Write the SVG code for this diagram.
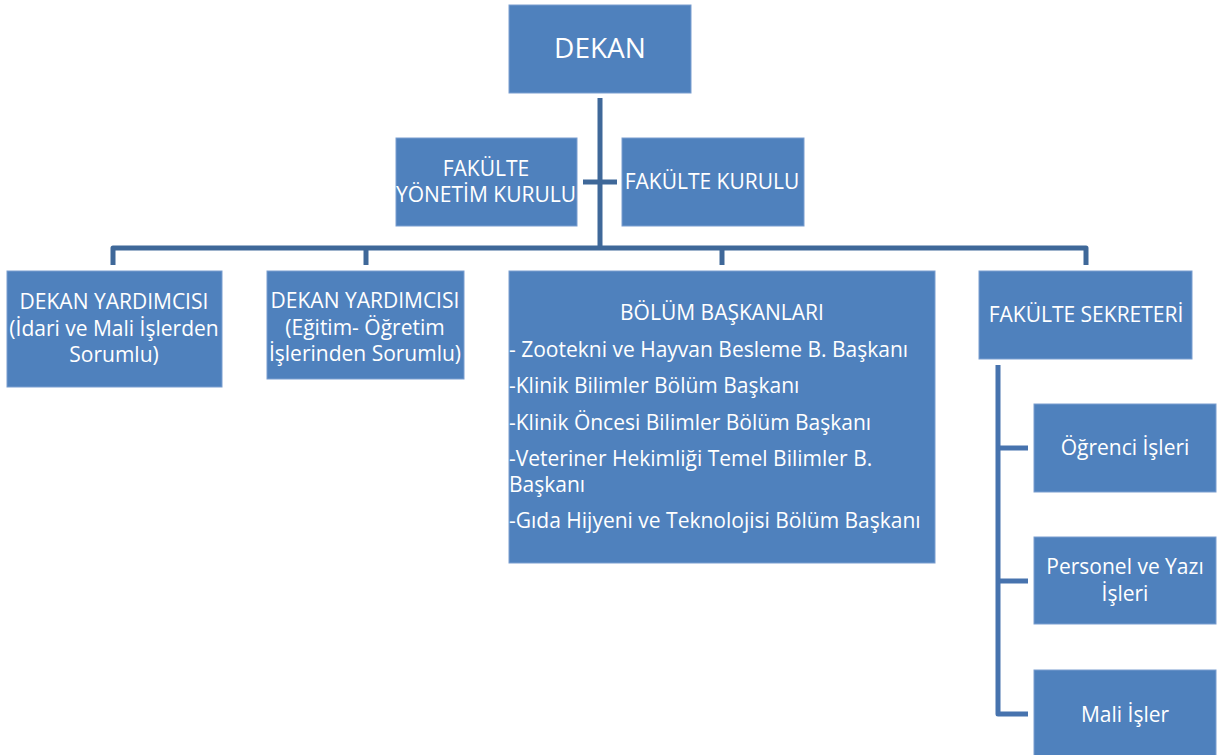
<svg xmlns="http://www.w3.org/2000/svg" width="1221" height="755" viewBox="0 0 1221 755">
<style>
.box{fill:#4F81BD;stroke:#7A9ED0;stroke-width:1}
.t{font-family:"Open Sans","Liberation Sans",sans-serif;font-size:21px;fill:#FFFFFF}
.c{text-anchor:middle}
.con{fill:none;stroke:#3F6899;stroke-width:5;stroke-linejoin:round}
.con2{fill:none;stroke:#4773AE;stroke-width:5;stroke-linejoin:round}
</style>
<rect width="1221" height="755" fill="#FFFFFF"/>
<g id="connectors">
<path class="con" d="M600 98 V248"/>
<path class="con" d="M583 182 H617"/>
<path class="con" d="M113 265 V248 H1086 V265"/>
<path class="con" d="M366 248 V265"/>
<path class="con" d="M722 248 V265"/>
<path class="con2" d="M998 365 V714 H1028"/>
<path class="con2" d="M998 448 H1028"/>
<path class="con2" d="M998 581 H1028"/>
</g>
<g id="dekan">
<rect class="box" x="509" y="5" width="182" height="88"/>
<text class="t c" x="600" y="58" style="font-size:28px">DEKAN</text>
</g>
<g id="fakulte-yonetim-kurulu">
<rect class="box" x="396" y="138" width="181" height="88"/>
<text class="t c" x="486" y="176">FAKÜLTE</text>
<text class="t c" x="486" y="202">YÖNETİM KURULU</text>
</g>
<g id="fakulte-kurulu">
<rect class="box" x="622" y="138" width="182" height="88"/>
<text class="t c" x="712" y="189">FAKÜLTE KURULU</text>
</g>
<g id="dekan-yardimcisi-1">
<rect class="box" x="7" y="271" width="215" height="116"/>
<text class="t c" x="114" y="309">DEKAN YARDIMCISI</text>
<text class="t c" x="114" y="336">(İdari ve Mali İşlerden</text>
<text class="t c" x="114" y="362">Sorumlu)</text>
</g>
<g id="dekan-yardimcisi-2">
<rect class="box" x="267" y="271" width="197" height="108"/>
<text class="t c" x="365" y="308">DEKAN YARDIMCISI</text>
<text class="t c" x="365" y="335">(Eğitim- Öğretim</text>
<text class="t c" x="365" y="361">İşlerinden Sorumlu)</text>
</g>
<g id="bolum-baskanlari">
<rect class="box" x="509" y="271" width="426" height="292"/>
<text class="t c" x="722" y="320">BÖLÜM BAŞKANLARI</text>
<text class="t" x="509" y="357">- Zootekni ve Hayvan Besleme B. Başkanı</text>
<text class="t" x="509" y="393">-Klinik Bilimler Bölüm Başkanı</text>
<text class="t" x="509" y="430">-Klinik Öncesi Bilimler Bölüm Başkanı</text>
<text class="t" x="509" y="466">-Veteriner Hekimliği Temel Bilimler B.</text>
<text class="t" x="509" y="492">Başkanı</text>
<text class="t" x="509" y="528">-Gıda Hijyeni ve Teknolojisi Bölüm Başkanı</text>
</g>
<g id="fakulte-sekreteri">
<rect class="box" x="979" y="271" width="213" height="88"/>
<text class="t c" x="1086" y="322">FAKÜLTE SEKRETERİ</text>
</g>
<g id="ogrenci-isleri">
<rect class="box" x="1034" y="404" width="182" height="88"/>
<text class="t c" x="1125" y="455">Öğrenci İşleri</text>
</g>
<g id="personel-ve-yazi-isleri">
<rect class="box" x="1034" y="537" width="182" height="87"/>
<text class="t c" x="1125" y="574">Personel ve Yazı</text>
<text class="t c" x="1125" y="601">İşleri</text>
</g>
<g id="mali-isler">
<rect class="box" x="1034" y="670" width="182" height="90"/>
<text class="t c" x="1125" y="722">Mali İşler</text>
</g>
</svg>
